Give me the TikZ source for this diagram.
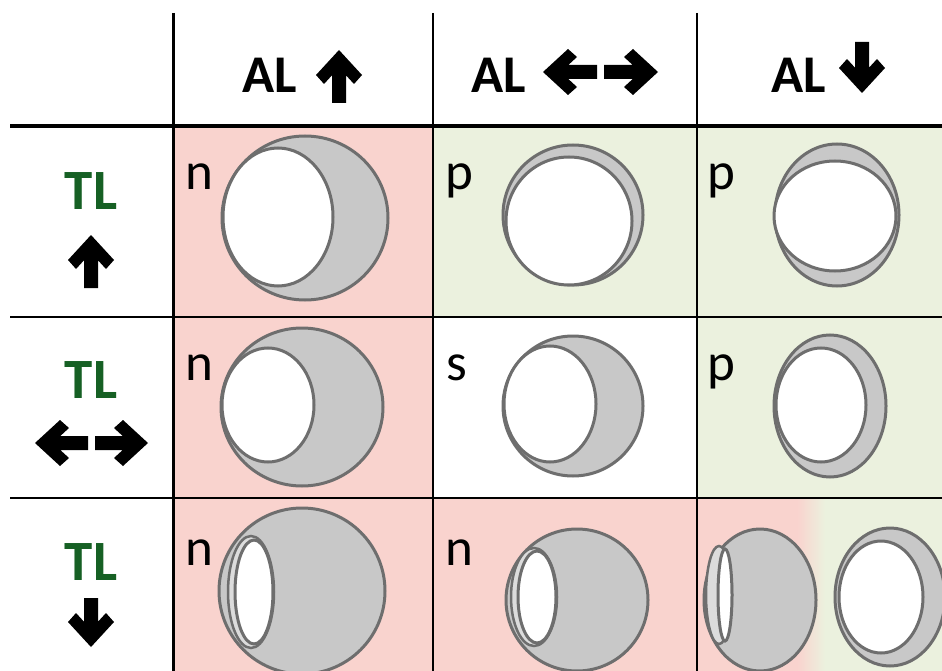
\documentclass[tikz,border=0pt]{standalone}
\usepackage{fontspec}
\setmainfont{Carlito}
\definecolor{pinkc}{RGB}{249,211,206}
\definecolor{greenc}{RGB}{235,241,222}
\definecolor{tlgreen}{RGB}{22,96,36}
\definecolor{ballgrey}{RGB}{200,200,200}
\definecolor{ballline}{RGB}{110,110,110}
\definecolor{lensgrey}{RGB}{220,220,220}
\newcommand{\blockarrow}[4]{%
  \fill[black,shift={(#1,#2)},rotate=#3] (0,0) -- (23,25) -- (15,34) -- (7,25.3) -- (7,#4) -- (-7,#4) -- (-7,25.3) -- (-15,34) -- (-23,25) -- cycle;}
\tikzset{
  hdr/.style={font=\fontsize{53}{60}\selectfont\bfseries, inner sep=0pt, anchor=base west},
  tlab/.style={font=\fontsize{57}{60}\selectfont\bfseries, text=tlgreen, inner sep=0pt, anchor=base},
  lab/.style={font=\fontsize{53}{60}\selectfont, inner sep=0pt, anchor=base west},
  ball/.style={fill=ballgrey, draw=ballline, line width=3pt},
  hole/.style={fill=white, draw=ballline, line width=3pt},
  lens/.style={fill=lensgrey, draw=ballline, line width=2.5pt}
}
\begin{document}
\begin{tikzpicture}[x=1pt,y=-1pt]
\useasboundingbox (0,0) rectangle (942,671);
\clip (0,0) rectangle (942,671);
\fill[white] (0,0) rectangle (942,671);
% backgrounds
\fill[pinkc] (173,126) rectangle (433,317);
\fill[greenc] (433,126) rectangle (942,317);
\fill[pinkc] (173,317) rectangle (433,498);
\fill[greenc] (697,317) rectangle (942,498);
\fill[pinkc] (173,498) rectangle (797,671);
\shade[left color=pinkc, right color=greenc] (797,498) rectangle (825,671);
\fill[greenc] (825,498) rectangle (942,671);
% row 1
\draw[ball] (305,218) ellipse [x radius=83pt, y radius=82pt];
\draw[hole] (278,217) ellipse [x radius=55pt, y radius=69pt];
\draw[ball] (573,215) ellipse [x radius=70pt, y radius=70pt];
\draw[hole] (569,221) ellipse [x radius=63pt, y radius=64pt];
\draw[ball] (837,215) ellipse [x radius=62pt, y radius=71pt];
\draw[hole] (835,216) ellipse [x radius=61pt, y radius=55pt];
% row 2
\draw[ball] (302,407) ellipse [x radius=81pt, y radius=79pt];
\draw[hole] (268,405) ellipse [x radius=46pt, y radius=57pt];
\draw[ball] (573,406) ellipse [x radius=70pt, y radius=70pt];
\draw[hole] (550,404) ellipse [x radius=46pt, y radius=58pt];
\draw[ball] (830,406) ellipse [x radius=56pt, y radius=71pt];
\draw[hole] (821,405) ellipse [x radius=45pt, y radius=57pt];
% row 3
\draw[ball] (302,591) ellipse [x radius=83pt, y radius=83pt];
\draw[lens] (251,592) ellipse [x radius=23pt, y radius=56pt];
\draw[hole] (254,592) ellipse [x radius=19pt, y radius=52pt];
\draw[ball] (577,600) ellipse [x radius=71pt, y radius=71pt];
\draw[lens] (534,597) ellipse [x radius=23pt, y radius=49pt];
\draw[hole] (537,597) ellipse [x radius=19pt, y radius=46pt];
\draw[ball] (760,600) ellipse [x radius=56pt, y radius=71pt];
\draw[lens] (719,595) ellipse [x radius=13pt, y radius=49pt];
\draw[hole] (725,595) ellipse [x radius=7pt, y radius=46pt];
\draw[ball] (890,597) ellipse [x radius=55pt, y radius=69pt];
\draw[hole] (881,597) ellipse [x radius=42pt, y radius=56pt];
% grid lines
\draw[line width=3.5pt] (10,126) -- (942,126);
\draw[line width=2.2pt] (10,317) -- (942,317);
\draw[line width=2.2pt] (10,498) -- (942,498);
\draw[line width=3pt] (173,13) -- (173,671);
\draw[line width=1.6pt] (433,13) -- (433,671);
\draw[line width=1.6pt] (697,13) -- (697,671);
% headers
\node[hdr] (al1) at (242,93) {AL};
\node[hdr] (al2) at (471,93) {AL};
\node[hdr] (al3) at (771,93) {AL};
\blockarrow{339}{50}{0}{53}
\blockarrow{543}{72}{90}{54}
\blockarrow{658}{72}{-90}{54}
\blockarrow{862}{93}{180}{51}
% row headers
\node[tlab] (tl1) at (91,210) {TL};
\node[tlab] (tl2) at (91,398) {TL};
\node[tlab] (tl3) at (91,580) {TL};
\blockarrow{91}{235}{0}{53}
\blockarrow{35}{443}{90}{53}
\blockarrow{148}{443}{-90}{53}
\blockarrow{91}{647}{180}{49}
% cell labels
\node[lab] (c11) at (185,190) {n};
\node[lab] (c12) at (445,190) {p};
\node[lab] (c13) at (707,190) {p};
\node[lab] (c21) at (185,380) {n};
\node[lab] (c22) at (446,380) {s};
\node[lab] (c23) at (707,380) {p};
\node[lab] (c31) at (185,565) {n};
\node[lab] (c32) at (445,565) {n};
\end{tikzpicture}
\end{document}
